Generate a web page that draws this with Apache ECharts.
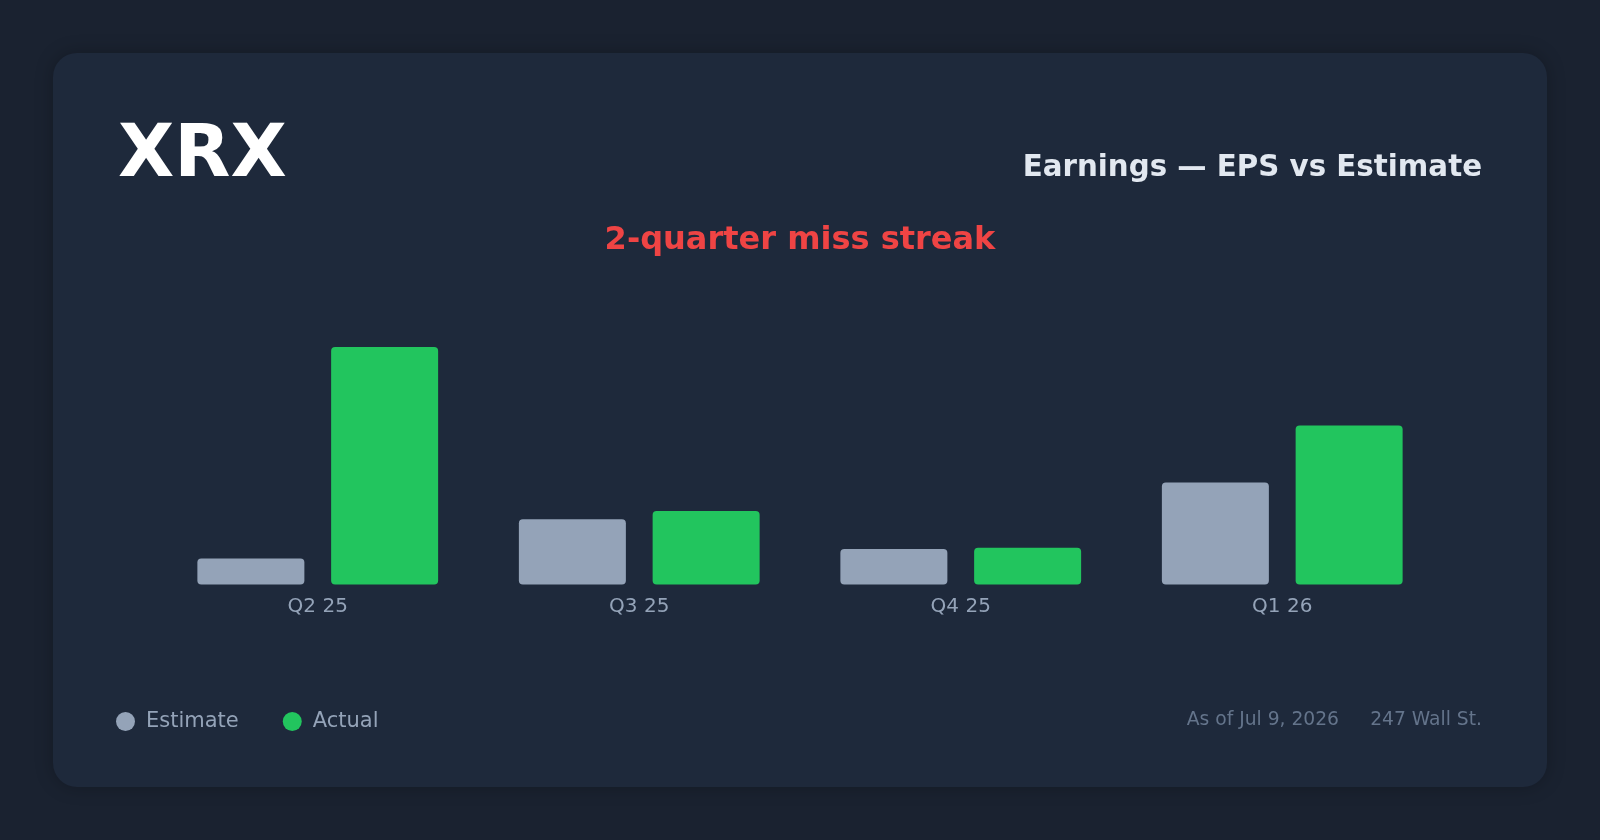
<!DOCTYPE html>
<html>
<head>
<meta charset="utf-8">
<script src="https://cdn.jsdelivr.net/npm/echarts@6/dist/echarts.min.js"></script>
<style>
html,body{margin:0;padding:0;background:#1a2230;}
#chart{width:1600px;height:840px;}
</style>
</head>
<body>
<div id="chart"></div>
<script>
const quarters = ['Q2 25', 'Q3 25', 'Q4 25', 'Q1 26'];
const estimateEPS = [0.11, 0.275, 0.15, 0.43];
const actualEPS = [1.00, 0.31, 0.155, 0.67];
const seriesNames = ['Estimate', 'Actual'];
const ticker = 'XRX';
const headline = 'Earnings — EPS vs Estimate';
const streakNote = '2-quarter miss streak';
const asOfNote = 'As of Jul 9, 2026';
const sourceNote = '247 Wall St.';

const FONT = 'DejaVu Sans';
const chart = echarts.init(document.getElementById('chart'));

chart.setOption({
  backgroundColor: '#1a2230',
  animation: false,
  textStyle: { fontFamily: FONT },
  graphic: [
    {
      type: 'rect', z: -10, silent: true,
      shape: { x: 53, y: 53, width: 1494, height: 734, r: 24 },
      style: { fill: '#1e293b', shadowBlur: 18, shadowColor: 'rgba(0,0,0,0.25)' }
    },
    {
      type: 'text', z: 10,
      style: { text: ticker, x: 118, y: 157, fill: '#ffffff', fontFamily: FONT, fontWeight: 'bold', fontSize: 73, textAlign: 'left', textVerticalAlign: 'middle' }
    },
    {
      type: 'text', z: 10,
      style: { text: headline, x: 1482, y: 168, fill: '#e2e8f0', fontFamily: FONT, fontWeight: 'bold', fontSize: 29.3, textAlign: 'right', textVerticalAlign: 'middle' }
    },
    {
      type: 'text', z: 10,
      style: { text: streakNote, x: 800, y: 241, fill: '#ef4444', fontFamily: FONT, fontWeight: 'bold', fontSize: 32, textAlign: 'center', textVerticalAlign: 'middle' }
    },
    {
      type: 'text', z: 10,
      style: { text: sourceNote, x: 1482, y: 720, fill: '#64748b', fontFamily: FONT, fontSize: 18.7, textAlign: 'right', textVerticalAlign: 'middle' }
    },
    {
      type: 'text', z: 10,
      style: { text: asOfNote, x: 1339, y: 720, fill: '#64748b', fontFamily: FONT, fontSize: 18.7, textAlign: 'right', textVerticalAlign: 'middle' }
    }
  ],
  legend: {
    data: seriesNames,
    left: 116, top: 711,
    padding: 0,
    icon: 'circle',
    itemWidth: 19, itemHeight: 19,
    itemGap: 44,
    textStyle: { color: '#94a3b8', fontSize: 21, fontFamily: FONT, padding: [0, 0, 0, 6] }
  },
  grid: { left: 157, right: 157, top: 299.5, bottom: 255.5 },
  xAxis: {
    type: 'category',
    data: quarters,
    axisLine: { show: false },
    axisTick: { show: false },
    axisLabel: { color: '#94a3b8', fontSize: 20, margin: 12, fontFamily: FONT }
  },
  yAxis: {
    type: 'value', min: 0, max: 1.2,
    show: false,
    splitLine: { show: false }
  },
  series: [
    {
      name: seriesNames[0], type: 'bar', data: estimateEPS,
      barWidth: 107, barGap: '25%',
      itemStyle: { color: '#94a3b8', borderRadius: 4 }
    },
    {
      name: seriesNames[1], type: 'bar', data: actualEPS,
      barWidth: 107, barGap: '25%',
      itemStyle: { color: '#22c55e', borderRadius: 4 }
    }
  ]
});
</script>
</body>
</html>
